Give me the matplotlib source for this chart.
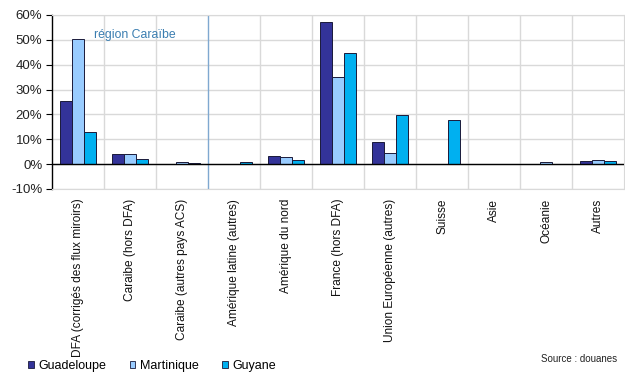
import matplotlib
matplotlib.use("Agg")
import matplotlib.pyplot as plt
import numpy as np
from matplotlib.patches import Patch

plt.rcParams['font.family'] = ['Liberation Sans', 'DejaVu Sans']

categories = [
    "DFA (corrigés des flux miroirs)",
    "Caraibe (hors DFA)",
    "Caraibe (autres pays ACS)",
    "Amérique latine (autres)",
    "Amérique du nord",
    "France (hors DFA)",
    "Union Européenne (autres)",
    "Suisse",
    "Asie",
    "Océanie",
    "Autres",
]
guadeloupe = [25.2, 4.0, 0.2, 0.2, 3.2, 57.2, 8.8, 0.1, 0.1, 0.1, 1.2]
martinique = [50.4, 4.0, 0.7, 0.2, 2.7, 35.2, 4.4, 0.1, 0.1, 0.7, 1.5]
guyane = [12.8, 2.0, 0.3, 0.7, 1.5, 44.8, 19.6, 17.6, 0.1, 0.2, 1.2]
series = [("Guadeloupe", guadeloupe, "#333399"),
          ("Martinique", martinique, "#99CCFF"),
          ("Guyane", guyane, "#00B0F0")]
yticks = [-10, 0, 10, 20, 30, 40, 50, 60]

fig = plt.figure(figsize=(6.25, 3.74), dpi=100)
ax = fig.add_axes([0.0832, 0.4947, 0.9152, 0.4653])

x = np.arange(len(categories))
w = 0.225
for i, (name, vals, col) in enumerate(series):
    ax.bar(x + (i - 1) * w, vals, width=w, color=col, edgecolor="#1a1a3a",
           linewidth=0.7, zorder=3)

ax.set_xlim(-0.5, len(categories) - 0.5)
ax.set_ylim(-10, 60)
ax.set_yticks(yticks)
ax.set_yticklabels([f"{v}%" for v in yticks], fontsize=9.5, color="#222222")

# category boundary grid
for b in np.arange(0.5, len(categories) - 0.5, 1.0):
    if abs(b - 2.5) < 1e-6:
        ax.axvline(b, color="#7FA8D0", linewidth=1.0, zorder=2)
    else:
        ax.axvline(b, color="#d9d9d9", linewidth=1.0, zorder=1)
ax.yaxis.grid(True, color="#d9d9d9", linewidth=1.0, zorder=1)
ax.set_axisbelow(True)
ax.axhline(0, color="black", linewidth=1.0, zorder=4)

for s in ["top", "right", "bottom"]:
    ax.spines[s].set_color("#d9d9d9")
ax.spines["left"].set_color("black")
ax.spines["left"].set_linewidth(1.0)
ax.tick_params(axis="y", length=4, width=0.8, pad=3)
ax.tick_params(axis="x", length=0, pad=7)
ax.set_xticks(x)
ax.set_xticklabels(categories, rotation=90, fontsize=8.6, va="top", ha="center",
                   color="#111111")

ax.text(1.1, 52, "région Caraïbe", color="#3A7DB0", fontsize=8.8,
        ha="center", va="center")

handles = [Patch(facecolor=c, edgecolor="#1a1a3a", linewidth=0.6, label=n)
           for n, _, c in series]
fig.legend(handles=handles, loc="center left", bbox_to_anchor=(0.045, 0.022),
           ncol=3, frameon=False, fontsize=9, handlelength=0.45,
           handleheight=0.45, handletextpad=0.35, columnspacing=1.9,
           borderpad=0, borderaxespad=0)

fig.text(0.988, 0.04, "Source : douanes", fontsize=7, ha="right", va="center",
         color="#222222")

fig.savefig("out.png", dpi=100)
